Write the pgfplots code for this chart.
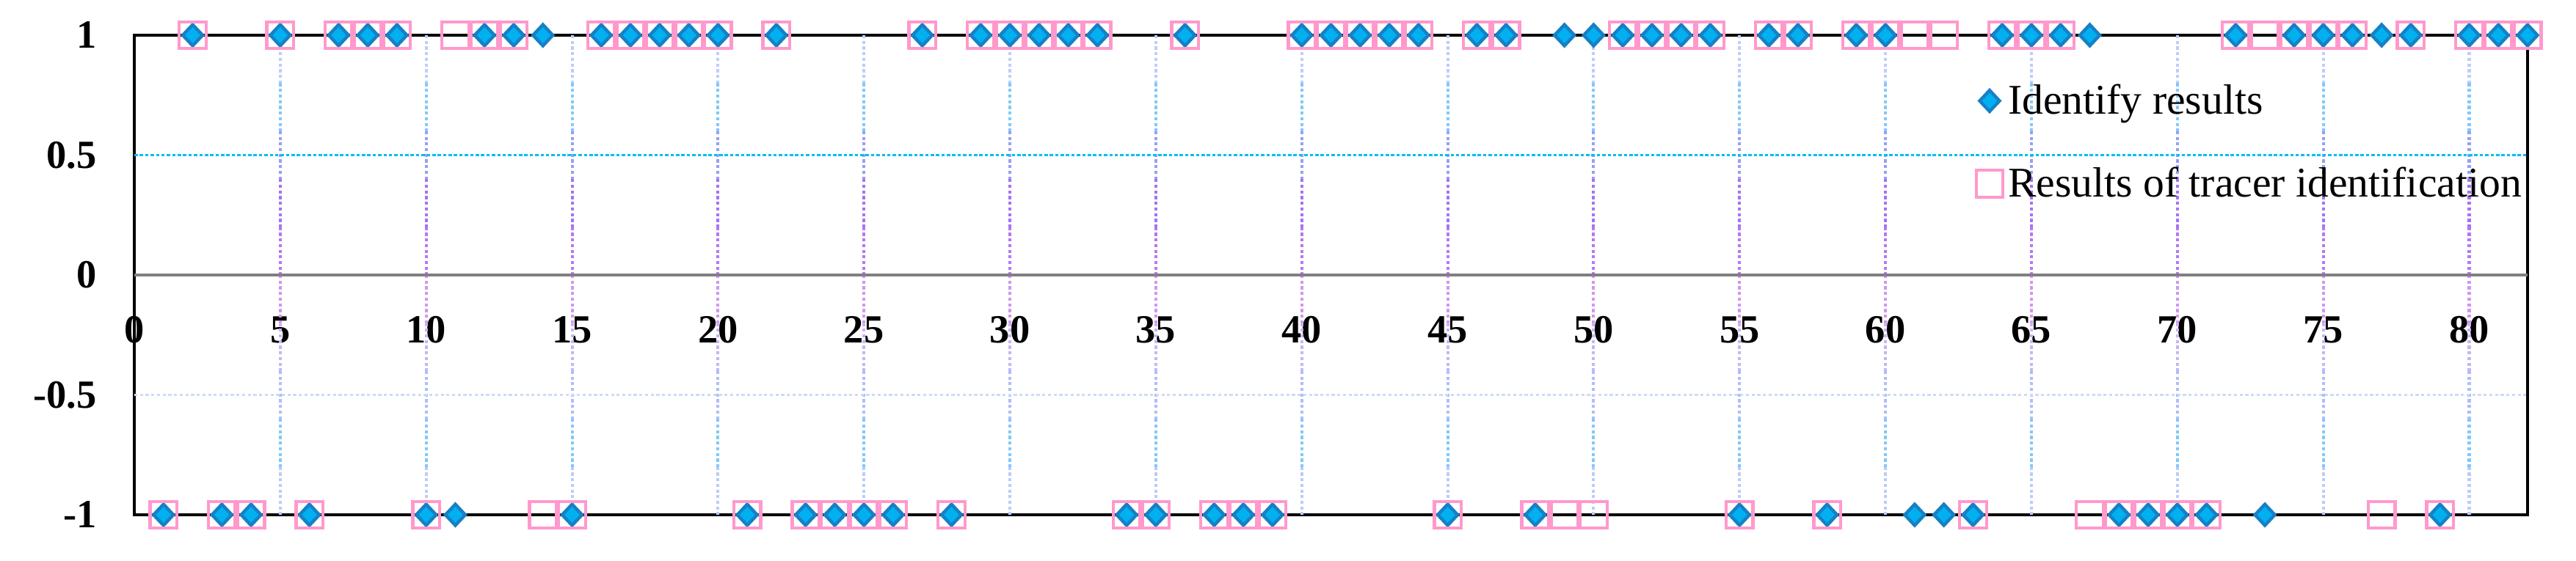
\documentclass[border=0pt]{standalone}
\usepackage{fontspec}
\setmainfont{Liberation Serif}
\usepackage{pgfplots}
\usepackage{pgfplotstable}
\pgfplotsset{compat=1.18}

\definecolor{diaedge}{RGB}{23,128,196}
\definecolor{diafill}{RGB}{0,176,240}
\definecolor{sqpink}{RGB}{255,153,204}
\definecolor{halfline}{RGB}{0,190,240}
\definecolor{neghalf}{RGB}{205,220,245}
\definecolor{zeroline}{RGB}{128,128,128}
% vertical grid colours, top to bottom
\definecolor{gA}{RGB}{190,205,250}
\definecolor{gB}{RGB}{130,200,250}
\definecolor{gC}{RGB}{150,160,245}
\definecolor{gD}{RGB}{165,115,245}
\definecolor{gE}{RGB}{180,120,245}
\definecolor{gF}{RGB}{210,150,240}
\definecolor{gG}{RGB}{200,180,245}
\definecolor{gH}{RGB}{175,190,250}
\definecolor{gI}{RGB}{130,200,250}
\definecolor{gJ}{RGB}{185,205,250}

% x: sample, id: identify results, tracer: tracer identification
\pgfplotstableread{
x id tracer
1 -1 -1
2 1 1
3 -1 -1
4 -1 -1
5 1 1
6 -1 -1
7 1 1
8 1 1
9 1 1
10 -1 -1
11 -1 1
12 1 1
13 1 1
14 1 -1
15 -1 -1
16 1 1
17 1 1
18 1 1
19 1 1
20 1 1
21 -1 -1
22 1 1
23 -1 -1
24 -1 -1
25 -1 -1
26 -1 -1
27 1 1
28 -1 -1
29 1 1
30 1 1
31 1 1
32 1 1
33 1 1
34 -1 -1
35 -1 -1
36 1 1
37 -1 -1
38 -1 -1
39 -1 -1
40 1 1
41 1 1
42 1 1
43 1 1
44 1 1
45 -1 -1
46 1 1
47 1 1
48 -1 -1
49 1 -1
50 1 -1
51 1 1
52 1 1
53 1 1
54 1 1
55 -1 -1
56 1 1
57 1 1
58 -1 -1
59 1 1
60 1 1
61 -1 1
62 -1 1
63 -1 -1
64 1 1
65 1 1
66 1 1
67 1 -1
68 -1 -1
69 -1 -1
70 -1 -1
71 -1 -1
72 1 1
73 -1 1
74 1 1
75 1 1
76 1 1
77 1 -1
78 1 1
79 -1 -1
80 1 1
81 1 1
82 1 1
}\results

\tikzset{vgrid/.style={line width=1.15pt, dash pattern=on 1.2pt off 1pt}}

\begin{document}
\begin{tikzpicture}
\useasboundingbox (-1.83,-0.62) rectangle (33.27,7.02);
\begin{axis}[
    at={(0,0)}, anchor=south west,
    scale only axis,
    width=32.61cm, height=6.54cm,
    xmin=0, xmax=82,
    ymin=-1, ymax=1,
    xtick={0,5,...,80},
    ytick={-1,-0.5,0,0.5,1},
    yticklabels={-1,-0.5,0,0.5,1},
    major tick length=0pt,
    axis line style={line width=1.4pt, black},
    clip=false,
    /pgf/number format/assume math mode=true,
    tick label style={font=\fontsize{15.5}{18}\selectfont\bfseries},
    xticklabel style={anchor=center, yshift=2.52cm},
    yticklabel style={xshift=-0.39cm},
    legend image code/.code={\draw[mark repeat=2,mark phase=2] plot coordinates {(0cm,0cm)(0.1cm,0cm)(0.2cm,0cm)};},
    legend cell align=left,
    legend style={at={(0.7694,0.910)}, anchor=north west, draw=none, fill=none,
        inner sep=0pt, row sep=0.53cm, font=\fontsize{16.4}{19}\selectfont},
]
\pgfplotsinvokeforeach{5,10,...,80}{
    \draw[gA, vgrid] (axis cs:#1,1) -- (axis cs:#1,0.8);
    \draw[gB, vgrid] (axis cs:#1,0.8) -- (axis cs:#1,0.6);
    \draw[gC, vgrid] (axis cs:#1,0.6) -- (axis cs:#1,0.4);
    \draw[gD, vgrid] (axis cs:#1,0.4) -- (axis cs:#1,0.2);
    \draw[gE, vgrid] (axis cs:#1,0.2) -- (axis cs:#1,0);
    \draw[gF, vgrid] (axis cs:#1,0) -- (axis cs:#1,-0.2);
    \draw[gG, vgrid] (axis cs:#1,-0.2) -- (axis cs:#1,-0.4);
    \draw[gH, vgrid] (axis cs:#1,-0.4) -- (axis cs:#1,-0.6);
    \draw[gI, vgrid] (axis cs:#1,-0.6) -- (axis cs:#1,-0.8);
    \draw[gJ, vgrid] (axis cs:#1,-0.8) -- (axis cs:#1,-1);
}
\draw[neghalf, line width=0.9pt, dash pattern=on 1.2pt off 1pt] (axis cs:0,-0.5) -- (axis cs:82,-0.5);
\draw[halfline, line width=1.1pt, dash pattern=on 1.3pt off 0.8pt] (axis cs:0,0.5) -- (axis cs:82,0.5);
\draw[zeroline, line width=1.4pt] (axis cs:0,0) -- (axis cs:82,0);

\addplot[only marks, mark=diamond*, mark size=4.1pt,
    mark options={xscale=1.25, draw=diaedge, fill=diafill, line width=1.25pt, solid}]
    table[x=x, y=id] {\results};
\addlegendentry{Identify results}
\addplot[only marks, mark=square, mark size=5.2pt,
    mark options={draw=sqpink, line width=1.25pt, solid}]
    table[x=x, y=tracer] {\results};
\addlegendentry{Results of tracer identification}
\end{axis}
\end{tikzpicture}
\end{document}
